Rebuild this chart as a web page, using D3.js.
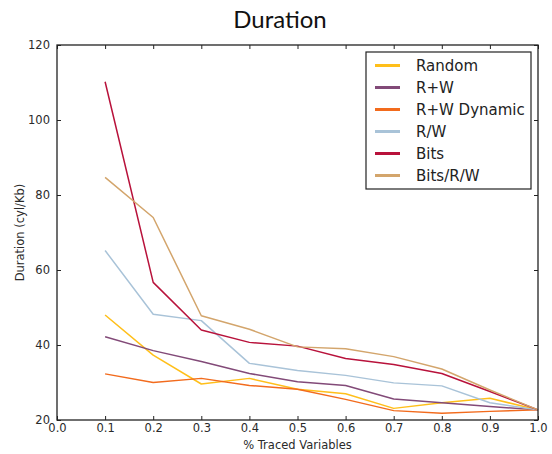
<!DOCTYPE html>
<html>
<head>
<meta charset="utf-8">
<script src="https://cdn.jsdelivr.net/npm/d3@7"></script>
<style>
  html, body { margin: 0; padding: 0; background: #fff; }
  svg { display: block; }
</style>
</head>
<body>
<svg id="chart" width="552" height="454"></svg>
<script>
// Fraction of traced variables (x) and duration per series (y, cyl/Kb)
const tracedFraction = [0.1, 0.2, 0.3, 0.4, 0.5, 0.6, 0.7, 0.8, 0.9, 1.0];
const seriesNames = ["Random", "R+W", "R+W Dynamic", "R/W", "Bits", "Bits/R/W"];
const seriesColors = ["#ffbf1a", "#824a78", "#f26b1d", "#a9c3d8", "#b8123b", "#d3a56c"];

const randomValues    = [48.0, 37.3, 29.6, 31.1, 28.2, 27.0, 23.1, 24.6, 25.8, 22.7];
const rwValues        = [42.2, 38.5, 35.6, 32.4, 30.2, 29.2, 25.6, 24.6, 23.6, 22.7];
const rwDynamicValues = [32.3, 30.0, 31.1, 29.2, 28.2, 25.5, 22.5, 21.8, 22.3, 22.7];
const rSlashWValues   = [65.2, 48.2, 46.5, 35.1, 33.2, 31.9, 29.9, 29.1, 24.6, 22.7];
const bitsValues      = [110.2, 56.7, 44.0, 40.7, 39.7, 36.4, 34.8, 32.4, 27.6, 22.7];
const bitsRWValues    = [84.7, 74.0, 47.8, 44.2, 39.5, 39.0, 36.9, 33.6, 28.0, 22.7];

const xTicks = [0.0, 0.1, 0.2, 0.3, 0.4, 0.5, 0.6, 0.7, 0.8, 0.9, 1.0];
const yTicks = [20, 40, 60, 80, 100, 120];

const allSeries = [randomValues, rwValues, rwDynamicValues, rSlashWValues, bitsValues, bitsRWValues];

const svg = d3.select("#chart");
const plotLeft = 57, plotRight = 538, plotTop = 45, plotBottom = 420;

const x = d3.scaleLinear().domain([0, 1]).range([plotLeft, plotRight]);
const y = d3.scaleLinear().domain([20, 120]).range([plotBottom, plotTop]);

const tickFont = "DejaVu Sans, sans-serif";

// Title
svg.append("text")
  .attr("x", 280).attr("y", 28)
  .attr("text-anchor", "middle")
  .attr("font-family", "Lato, 'Open Sans', sans-serif")
  .attr("font-size", 24)
  .attr("fill", "#111")
  .text("Duration");

// Series lines
const line = d3.line()
  .x((d, i) => x(tracedFraction[i]))
  .y(d => y(d));

svg.append("g").selectAll("path")
  .data(allSeries)
  .join("path")
  .attr("d", d => line(d))
  .attr("fill", "none")
  .attr("stroke", (d, i) => seriesColors[i])
  .attr("stroke-width", 1.5)
  .attr("stroke-linejoin", "round");

// Axes with inward ticks on all four sides
const styleAxis = g => {
  g.select(".domain").remove();
  g.selectAll("text")
    .attr("font-family", tickFont)
    .attr("font-size", 11.5)
    .attr("fill", "#2a2a2a");
  g.selectAll("line").attr("stroke", "#222");
};

svg.append("g")
  .attr("transform", `translate(0,${plotBottom})`)
  .call(d3.axisBottom(x).tickValues(xTicks).tickFormat(d3.format(".1f")).tickSizeInner(-4).tickSizeOuter(0).tickPadding(4))
  .call(styleAxis);

svg.append("g")
  .attr("transform", `translate(0,${plotTop})`)
  .call(d3.axisTop(x).tickValues(xTicks).tickFormat("").tickSizeInner(-4).tickSizeOuter(0))
  .call(styleAxis);

svg.append("g")
  .attr("transform", `translate(${plotLeft},0)`)
  .call(d3.axisLeft(y).tickValues(yTicks).tickSizeInner(-4).tickSizeOuter(0).tickPadding(7))
  .call(styleAxis);

svg.append("g")
  .attr("transform", `translate(${plotRight},0)`)
  .call(d3.axisRight(y).tickValues(yTicks).tickFormat("").tickSizeInner(-4).tickSizeOuter(0))
  .call(styleAxis);

// Plot frame
svg.append("rect")
  .attr("x", plotLeft).attr("y", plotTop)
  .attr("width", plotRight - plotLeft).attr("height", plotBottom - plotTop)
  .attr("fill", "none")
  .attr("stroke", "#222")
  .attr("stroke-width", 1.3);

// Axis titles
svg.append("text")
  .attr("x", (plotLeft + plotRight) / 2).attr("y", 449)
  .attr("text-anchor", "middle")
  .attr("font-family", tickFont)
  .attr("font-size", 11.5)
  .attr("fill", "#2a2a2a")
  .text("% Traced Variables");

svg.append("text")
  .attr("transform", `translate(24,${(plotTop + plotBottom) / 2}) rotate(-90)`)
  .attr("text-anchor", "middle")
  .attr("font-family", tickFont)
  .attr("font-size", 11.5)
  .attr("fill", "#2a2a2a")
  .text("Duration (cyl/Kb)");

// Legend
const legend = svg.append("g");
legend.append("rect")
  .attr("x", 366).attr("y", 52)
  .attr("width", 165).attr("height", 137)
  .attr("fill", "#fff")
  .attr("stroke", "#222")
  .attr("stroke-width", 1.2);

const rows = legend.selectAll("g.row")
  .data(seriesNames)
  .join("g")
  .attr("class", "row")
  .attr("transform", (d, i) => `translate(0,${65.5 + i * 22})`);

rows.append("line")
  .attr("x1", 375).attr("x2", 400)
  .attr("y1", 0).attr("y2", 0)
  .attr("stroke", (d, i) => seriesColors[i])
  .attr("stroke-width", 3);

rows.append("text")
  .attr("x", 416).attr("y", 0)
  .attr("dy", "0.35em")
  .attr("font-family", tickFont)
  .attr("font-size", 15)
  .attr("fill", "#222")
  .text(d => d);
</script>
</body>
</html>
